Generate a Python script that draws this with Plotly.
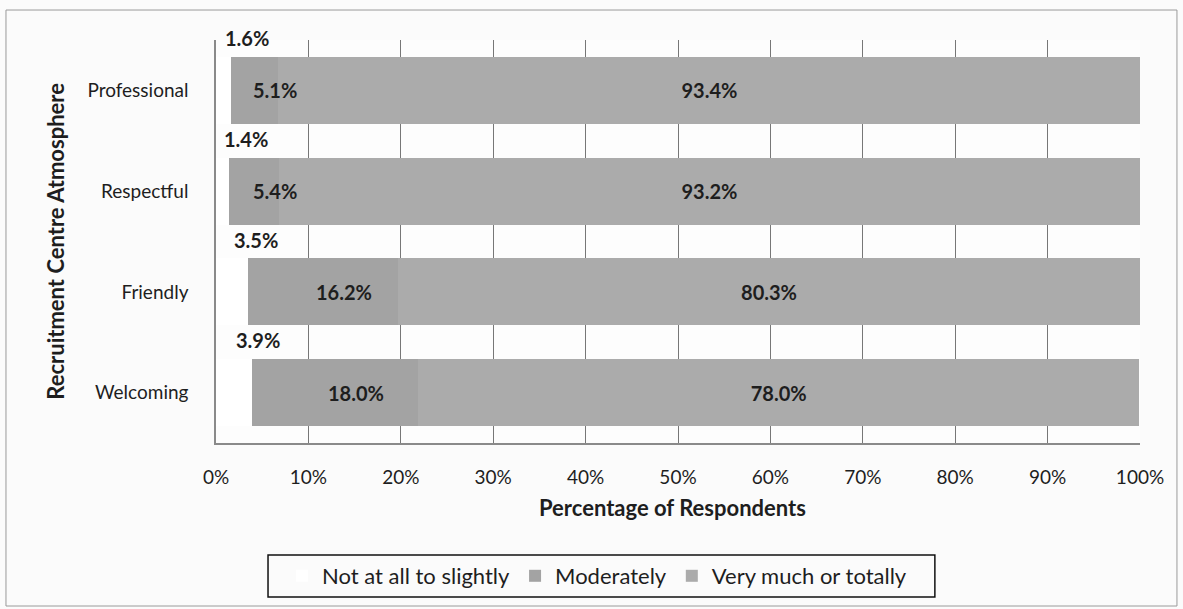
import plotly.graph_objects as go

# Survey responses: share of respondents per rating level
categories = ["Professional", "Respectful", "Friendly", "Welcoming"]
not_at_all = [1.6, 1.4, 3.5, 3.9]
moderately = [5.1, 5.4, 16.2, 18.0]
very_much = [93.4, 93.2, 80.3, 78.0]
x_ticks = [0, 10, 20, 30, 40, 50, 60, 70, 80, 90, 100]
x_tick_labels = [f"{v}%" for v in x_ticks]

FONT = "Lato"
TEXT = "#1e1e1e"
GREY_MOD = "#a3a3a3"
GREY_VERY = "#ababab"
LABEL_SIZE = 20

fig = go.Figure()
fig.add_trace(go.Bar(
    y=categories, x=not_at_all, orientation="h", name="Not at all to slightly",
    marker=dict(color="#ffffff", line=dict(width=0)), hoverinfo="x+y",
))
fig.add_trace(go.Bar(
    y=categories, x=moderately, orientation="h", name="Moderately",
    marker=dict(color=GREY_MOD, line=dict(width=0)), hoverinfo="x+y",
))
fig.add_trace(go.Bar(
    y=categories, x=very_much, orientation="h", name="Very much or totally",
    marker=dict(color=GREY_VERY, line=dict(width=0)),
    texttemplate="<b>%{x:.1f}%</b>", textposition="inside",
    insidetextanchor="middle", textangle=0,
    textfont=dict(family=FONT, size=LABEL_SIZE, color=TEXT), hoverinfo="x+y",
))

annotations = []
for i, (a, m) in enumerate(zip(not_at_all, moderately)):
    # small segment labels sit in the gap above each bar
    annotations.append(dict(
        x=a / 2, y=i - 0.5, xref="x", yref="y", xshift=24, yshift=2,
        xanchor="center", yanchor="middle",
        text=f"<b>{a:.1f}%</b>", showarrow=False,
        font=dict(family=FONT, size=LABEL_SIZE, color=TEXT),
    ))
    annotations.append(dict(
        x=a + m / 2, y=i, xref="x", yref="y", xshift=21,
        xanchor="center", yanchor="middle",
        text=f"<b>{m:.1f}%</b>", showarrow=False,
        font=dict(family=FONT, size=LABEL_SIZE, color=TEXT),
    ))

# axis titles
annotations.append(dict(
    x=0.494, y=-0.161, xref="paper", yref="paper",
    xanchor="center", yanchor="middle",
    text="<b>Percentage of Respondents</b>", showarrow=False,
    font=dict(family=FONT, size=22, color=TEXT),
))
annotations.append(dict(
    x=-0.174, y=0.5, xref="paper", yref="paper", textangle=-90,
    xanchor="center", yanchor="middle",
    text="<b>Recruitment Centre Atmosphere</b>", showarrow=False,
    font=dict(family=FONT, size=22, color=TEXT),
))

shapes = [
    # outer chart frame
    dict(type="rect", xref="paper", yref="paper", x0=-0.2273, x1=1.040,
         y0=-0.4045, y1=1.0744, line=dict(color="#9a9a9a", width=1), layer="below"),
    # legend frame
    dict(type="rect", xref="paper", yref="paper", x0=0.0563, x1=0.778,
         y0=-0.382, y1=-0.278, line=dict(color="#111111", width=1.5)),
]

fig.update_layout(
    barmode="stack",
    bargap=0.335,
    width=1183, height=609,
    margin=dict(l=216, r=43, t=40, b=166),
    paper_bgcolor="#fbfbfb",
    plot_bgcolor="#fdfdfd",
    font=dict(family=FONT, size=19, color=TEXT),
    showlegend=True,
    legend=dict(
        orientation="h", x=0.0714, xanchor="left", y=-0.33, yanchor="middle",
        bgcolor="rgba(0,0,0,0)", borderwidth=0, traceorder="normal",
        font=dict(family=FONT, size=22, color=TEXT),
    ),
    xaxis=dict(
        range=[0, 100], tickvals=x_ticks, ticktext=x_tick_labels,
        showgrid=True, gridcolor="#777777", gridwidth=1.3,
        showline=True, linecolor="#8a8a8a", linewidth=1.5,
        zeroline=False, ticks="", ticklabelstandoff=16,
        tickfont=dict(family=FONT, size=19, color=TEXT),
    ),
    yaxis=dict(
        categoryorder="array", categoryarray=categories,
        range=[3.5, -0.5],
        showgrid=False, showline=True, linecolor="#8a8a8a", linewidth=1.5,
        ticks="", ticklabelstandoff=22,
        tickfont=dict(family=FONT, size=19, color=TEXT),
    ),
    annotations=annotations,
    shapes=shapes,
)

fig.write_html("out.html")
